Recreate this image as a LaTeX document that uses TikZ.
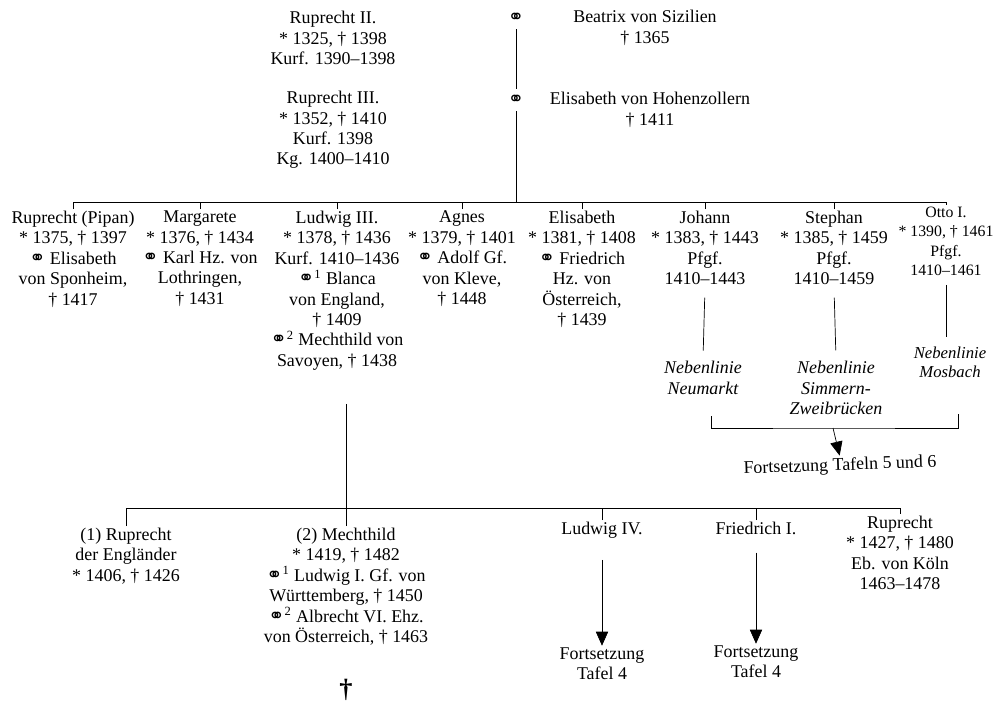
\documentclass[tikz,border=0pt]{standalone}
\usepackage{fontspec}
\setmainfont{Liberation Serif}
\newfontfamily\symfont{DejaVu Sans}
\usetikzlibrary{arrows.meta}

\newcommand{\marr}{{\symfont\fontsize{11}{11}\selectfont\char"26AD}}

\tikzset{
	person/.style={align=center, inner sep=1pt, font=\fontsize{10.2}{11.6}\selectfont},
	small/.style={person, font=\fontsize{9}{11}\selectfont},
	branch/.style={person, font=\fontsize{10.2}{11.6}\selectfont\itshape},
	cont/.style={-{Triangle[length=8pt,width=7pt]}},
}

\begin{document}
\begin{tikzpicture}[x=0.02cm, y=-0.02cm, line width=0.4pt]
		\useasboundingbox (0,0) rectangle (1002,707);

		\node[person] (rup2) at (333,38) {Ruprecht II.\\* 1325, † 1398\\Kurf. 1390--1398};
		\node (m1) at (516,18) {\marr};
		\node[person] (beatrix) at (645,28) {Beatrix von Sizilien\\† 1365};

		\node[person] (rup3) at (333,130) {Ruprecht III.\\* 1352, † 1410\\Kurf. 1398\\Kg. 1400--1410};
		\node (m2) at (516,100) {\marr};
		\node[person] (elisH) at (650,110) {Elisabeth von Hohenzollern\\† 1411};

		\coordinate (bar1) at (516,202);
		\draw (m1) -- (m2);
		\draw (m2) -- (bar1);

		\node[person, anchor=north] (pipan) at (73,209) {Ruprecht (Pipan)\\* 1375, † 1397\\\marr{} Elisabeth\\von Sponheim,\\† 1417};
		\node[person, anchor=north] (margarete) at (200,209) {Margarete\\* 1376, † 1434\\\marr{} Karl Hz. von\\Lothringen,\\† 1431};
		\node[person, anchor=north] (ludwig3) at (337,209) {Ludwig III.\\* 1378, † 1436\\Kurf. 1410--1436\\\marr\textsuperscript{1} Blanca\\von England,\\† 1409\\\marr\textsuperscript{2} Mechthild von\\Savoyen, † 1438};
		\node[person, anchor=north] (agnes) at (462,209) {Agnes\\* 1379, † 1401\\\marr{} Adolf Gf.\\von Kleve,\\† 1448};
		\node[person, anchor=north] (elisabeth) at (582,209) {Elisabeth\\* 1381, † 1408\\\marr{} Friedrich\\Hz. von\\Österreich,\\† 1439};
		\node[person, anchor=north] (johann) at (705,209) {Johann\\* 1383, † 1443\\Pfgf.\\1410--1443};
		\node[person, anchor=north] (stephan) at (834,209) {Stephan\\* 1385, † 1459\\Pfgf.\\1410--1459};
		\node[small, anchor=north] (otto) at (946,205) {Otto I.\\* 1390, † 1461\\Pfgf.\\1410--1461};

		\draw (pipan.north) -- (pipan.north |- bar1) -- (otto.north |- bar1) -- (otto.north);
		\foreach \n in {margarete,ludwig3,agnes,elisabeth,johann,stephan}{
			\draw (\n.north) -- (\n.north |- bar1);
		}

		\node[branch] (neumarkt) at (703,378) {Nebenlinie\\Neumarkt};
		\node[branch] (simmern) at (836,388) {Nebenlinie\\Simmern-\\Zweibrücken};
		\node[branch, font=\fontsize{9.5}{11}\selectfont\itshape] (mosbach) at (950,362) {Nebenlinie\\Mosbach};
		\draw[shorten <=6pt, shorten >=5pt] (johann.south) -- (neumarkt.north);
		\draw[shorten <=6pt, shorten >=5pt] (stephan.south) -- (simmern.north);
		\draw[shorten <=4pt, shorten >=4pt] (otto.south) -- (otto.south |- mosbach.north);

		\coordinate (brL) at (711,416);
		\coordinate (brM) at (833,428);
		\coordinate (brR) at (958,414);
		\node[person, rotate=2] (tafeln) at (840,466) {Fortsetzung Tafeln 5 und 6};
		\draw (brL) |- (brM) -| (brR);
		\draw[cont] (brM) -- (tafeln.north);

		\coordinate (bar2) at (346,508);
		\draw[shorten <=18pt] (bar2 |- ludwig3.south) -- (bar2);

		\node[person, anchor=north] (rupEng) at (126,526) {(1) Ruprecht\\der Engländer\\* 1406, † 1426};
		\node[person, anchor=north] (mechthild) at (346,526) {(2) Mechthild\\* 1419, † 1482\\\marr\textsuperscript{1} Ludwig I. Gf. von\\Württemberg, † 1450\\\marr\textsuperscript{2} Albrecht VI. Ehz.\\von Österreich, † 1463};
		\node[person, anchor=north] (ludwig4) at (602,520) {Ludwig IV.};
		\node[person, anchor=north] (friedrich1) at (756,520) {Friedrich I.};
		\node[person, anchor=north] (rupKoeln) at (900,514) {Ruprecht\\* 1427, † 1480\\Eb. von Köln\\1463--1478};
		\node[font=\fontsize{15}{15}\selectfont\bfseries] (dag) at (346,690) {†};

		\draw (rupEng.north) -- (rupEng.north |- bar2) -- (rupKoeln.north |- bar2) -- (rupKoeln.north);
		\foreach \n in {mechthild,ludwig4,friedrich1}{
			\draw (\n.north) -- (\n.north |- bar2);
		}

		\node[person] (fortA) at (602,664) {Fortsetzung\\Tafel 4};
		\node[person] (fortB) at (756,662) {Fortsetzung\\Tafel 4};
		\draw[cont, shorten <=11pt] (ludwig4.south) -- (fortA.north);
		\draw[cont, shorten <=9pt] (friedrich1.south) -- (fortB.north);
\end{tikzpicture}
\end{document}
